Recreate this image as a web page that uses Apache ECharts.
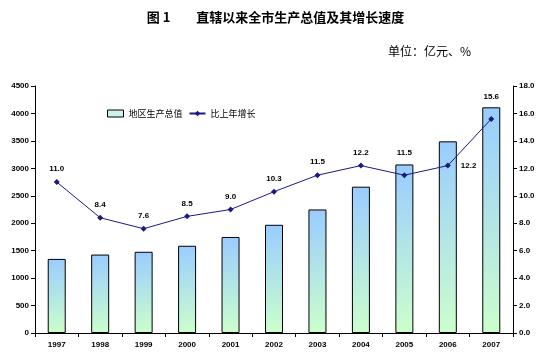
<!DOCTYPE html>
<html><head><meta charset="utf-8">
<script src="https://cdn.jsdelivr.net/npm/echarts@6/dist/echarts.min.js"></script>
<style>html,body{margin:0;padding:0;background:#fff}#c{width:551px;height:361px}</style>
</head><body><div id="c"></div>
<script>
var years = ['1997','1998','1999','2000','2001','2002','2003','2004','2005','2006','2007'];
var gdp = [1350.1, 1429.3, 1479.7, 1589.3, 1749.8, 1971.3, 2250.6, 2665.4, 3070.5, 3491.6, 4111.8];
var growth = [11.0, 8.4, 7.6, 8.5, 9.0, 10.3, 11.5, 12.2, 11.5, 12.2, 15.6];
var leftTicks = [0, 500, 4500];
var rightTicks = [0, 2, 18];

var font = 'SimSun, "Noto Sans CJK SC", sans-serif';
var barColor = new echarts.graphic.LinearGradient(0, 0, 0.6, 1, [
  {offset: 0, color: '#99ccff'}, {offset: 1, color: '#ccffcc'}
]);
var chart = echarts.init(document.getElementById('c'));
chart.setOption({
  animation: false,
  title: [
    {text: '图 1　　直辖以来全市生产总值及其增长速度', left: 'center', top: 6,
     textStyle: {fontSize: 13, fontWeight: 'bold', color: '#000', fontFamily: font}},
    {text: '单位：亿元、%', left: 383, top: 40,
     textStyle: {fontSize: 12, fontWeight: 'normal', color: '#000', fontFamily: font}}
  ],
  legend: {
    left: 102, top: 104, itemGap: 6, itemWidth: 16, itemHeight: 7,
    textStyle: {fontSize: 9, color: '#000', fontFamily: font},
    data: [
      {name: '地区生产总值', icon: 'rect', itemStyle: {color: '#ccf2ee', borderColor: '#000', borderWidth: 1}},
      {name: '比上年增长'}
    ]
  },
  grid: {left: 35, right: 38, top: 86, bottom: 28},
  xAxis: {
    type: 'category', data: years,
    axisLine: {lineStyle: {color: '#000', width: 1}},
    axisTick: {show: true, alignWithLabel: false, length: 4, lineStyle: {color: '#000'}},
    axisLabel: {fontSize: 8, fontWeight: 'bold', color: '#000', margin: 8, fontFamily: 'Arial, sans-serif'}
  },
  yAxis: [
    {type: 'value', min: leftTicks[0], max: leftTicks[2], interval: leftTicks[1], splitLine: {show: false},
     axisLine: {show: true, lineStyle: {color: '#000'}},
     axisTick: {show: true, length: 4, lineStyle: {color: '#000'}},
     axisLabel: {fontSize: 8, fontWeight: 'bold', color: '#000', margin: 6, fontFamily: 'Arial, sans-serif',
       formatter: function (v) { return String(v); }}},
    {type: 'value', min: rightTicks[0], max: rightTicks[2], interval: rightTicks[1], splitLine: {show: false},
     axisLine: {show: true, lineStyle: {color: '#000'}},
     axisTick: {show: true, length: 4, lineStyle: {color: '#000'}},
     axisLabel: {fontSize: 8, fontWeight: 'bold', color: '#000', margin: 6, fontFamily: 'Arial, sans-serif',
       formatter: function (v) { return v.toFixed(1); }}}
  ],
  series: [
    {name: '地区生产总值', type: 'bar', data: gdp, barWidth: 18,
     itemStyle: {color: barColor, borderColor: '#000', borderWidth: 1}},
    {name: '比上年增长', type: 'line', yAxisIndex: 1,
     data: growth.map(function (v, i) {
       if (i === 9) return {value: v, label: {position: 'right', distance: 10}};
       if (i === 8 || i === 10) return {value: v, label: {distance: 15}};
       return v;
     }),
     symbol: 'diamond', symbolSize: 6,
     lineStyle: {color: '#1a1a80', width: 1},
     itemStyle: {color: '#1a1a80'},
     label: {show: true, position: 'top', distance: 6, fontSize: 8, fontWeight: 'bold', color: '#000',
       fontFamily: 'Arial, sans-serif',
       formatter: function (p) { return p.value.toFixed(1); }}}
  ]
});
</script>
</body></html>
